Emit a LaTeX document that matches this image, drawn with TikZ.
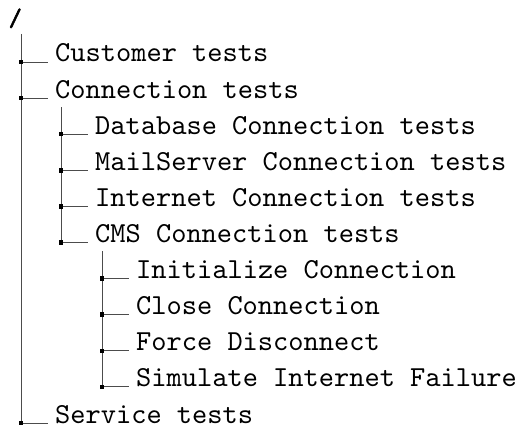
\documentclass[tikz,border=0pt]{standalone}
\font\treefont=cmtt10 at 29pt
\font\rootfont=cmtt10 at 25pt
\newcommand{\fauxbold}[1]{\special{pdf:literal direct 2 Tr 0.6 w}#1\special{pdf:literal direct 0 Tr}}
\begin{document}
\begin{tikzpicture}[x=1pt,y=1pt,
  lbl/.style={anchor=base west,inner sep=0pt,font=\treefont},
  rootlbl/.style={anchor=base west,inner sep=0pt,font=\rootfont},
  conn/.style={draw=black!70,line width=0.9pt},
  hconn/.style={conn,shorten >=7pt},
  dot/.style={fill=black,minimum size=4.5pt,inner sep=0pt,outer sep=0pt}]
\useasboundingbox (0,0) rectangle (521,-425);
% root
\node[rootlbl] (root) at (8.5,-26) {\fauxbold{/}};
% level 1 texts
\node[lbl] (c1) at (55,-62) {Customer tests};
\node[lbl] (c2) at (55,-98.1) {Connection tests};
\node[lbl] (c3) at (55,-423) {Service tests};
% level 2
\node[lbl] (d1) at (95,-134.2) {Database Connection tests};
\node[lbl] (d2) at (95,-170.3) {MailServer Connection tests};
\node[lbl] (d3) at (95,-206.4) {Internet Connection tests};
\node[lbl] (d4) at (95,-242.5) {CMS Connection tests};
% level 3
\node[lbl] (e1) at (136,-278.6) {Initialize Connection};
\node[lbl] (e2) at (136,-314.7) {Close Connection};
\node[lbl] (e3) at (136,-350.8) {Force Disconnect};
\node[lbl] (e4) at (136,-386.9) {Simulate Internet Failure};
% vertical line tops
\coordinate (t1) at (21,-34);
\coordinate (t2) at (61,-107);
\coordinate (t3) at (102,-251);
% junctions
\coordinate (j1) at (21,-62);
\coordinate (j2) at (21,-98.1);
\coordinate (j3) at (21,-423);
\coordinate (k1) at (61,-134.2);
\coordinate (k2) at (61,-170.3);
\coordinate (k3) at (61,-206.4);
\coordinate (k4) at (61,-242.5);
\coordinate (m1) at (102,-278.6);
\coordinate (m2) at (102,-314.7);
\coordinate (m3) at (102,-350.8);
\coordinate (m4) at (102,-386.9);
% verticals
\draw[conn] (t1) -- (j3);
\draw[conn] (t2) -- (k4);
\draw[conn] (t3) -- (m4);
% horizontals
\foreach \j/\n in {j1/c1,j2/c2,j3/c3,k1/d1,k2/d2,k3/d3,k4/d4,m1/e1,m2/e2,m3/e3,m4/e4}{
  \draw[hconn] (\j) -- (\n.base west);
  \node[dot] at (\j) {};
}
\end{tikzpicture}
\end{document}
